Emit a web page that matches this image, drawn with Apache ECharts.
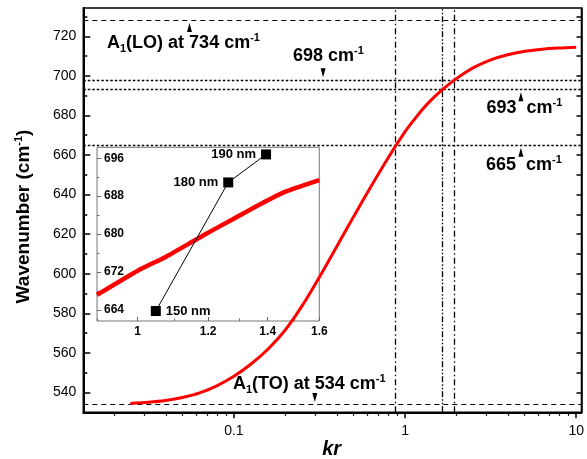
<!DOCTYPE html>
<html><head><meta charset="utf-8">
<script src="https://cdn.jsdelivr.net/npm/echarts@6/dist/echarts.min.js"></script>
<style>html,body{margin:0;padding:0;background:#fff}#c{width:587px;height:459px}</style>
</head><body><div id="c"></div>
<script>
// ---- data ----
const curveX = [0.0248, 0.0316, 0.0398, 0.0501, 0.0631, 0.0794, 0.1, 0.1259, 0.1585, 0.1995, 0.2512, 0.3162, 0.3981, 0.5012, 0.631, 0.7943, 1.0, 1.122, 1.259, 1.413, 1.585, 1.778, 1.995, 2.239, 2.512, 3.162, 3.981, 5.012, 6.31, 7.943, 10.0];
const curveY = [534.5, 535.1, 536.0, 537.5, 539.8, 543.4, 548.2, 554.4, 562.0, 571.6, 584.0, 598.4, 613.7, 629.0, 644.0, 658.4, 671.8, 677.5, 682.9, 687.6, 691.7, 695.3, 698.6, 701.6, 704.2, 708.1, 710.7, 712.4, 713.5, 714.1, 714.5];
const insetCurveX = [0.9, 1.0, 1.075, 1.157, 1.213, 1.278, 1.37, 1.468, 1.6];
const insetCurveY = [667.2, 672.3, 675.2, 678.6, 680.8, 683.1, 686.2, 689.0, 691.4];
const sizeX = [1.048, 1.264, 1.394];
const sizeY = [663.8, 690.9, 696.8];
const sizeLabels = ['150 nm', '180 nm', '190 nm'];
const hLinesDashed = [728, 534];
const hLinesDotted = [698, 693, 665];
const vLines = [0.875, 1.66, 1.935];
const xMajorTicks = [0.1, 1, 10];
const xMinorTicks = [0.02,0.03,0.04,0.05,0.06,0.07,0.08,0.09,0.2,0.3,0.4,0.5,0.6,0.7,0.8,0.9,2,3,4,5,6,7,8,9];
const yMajorTicks = [540,560,580,600,620,640,660,680,700,720];
const yMinorTicks = [530,550,570,590,610,630,650,670,690,710,730];
const yAllTicks = [530,540,550,560,570,580,590,600,610,620,630,640,650,660,670,680,690,700,710,720,730];
const insetXTicks = [1, 1.2, 1.4, 1.6];
const insetXMinor = [0.9, 1.1, 1.3, 1.5];
const insetYTicks = [664, 672, 680, 688, 696];
const insetYMinor = [668, 676, 684, 692];
const arrowX = [0.055, 0.332, 4.75, 4.75, 0.297];
const arrowY = [728, 698, 693, 665, 534];
const arrowUp = [true, false, true, true, false];

const FF = '"Liberation Sans", Arial, sans-serif';
const chart = echarts.init(document.getElementById('c'), null, {renderer: 'canvas'});

function rich(size) {
  return {
    t: {fontSize: size, fontWeight: 'bold', fontFamily: FF, color: '#000', lineHeight: 22},
    sub: {fontSize: 11, fontWeight: 'bold', fontFamily: FF, color: '#000', lineHeight: 12, verticalAlign: 'bottom'},
    sup: {fontSize: 11, fontWeight: 'bold', fontFamily: FF, color: '#000', lineHeight: 12, verticalAlign: 'top'}
  };
}
function txt(x, y, s, size, extra) {
  return Object.assign({type: 'text', x: x, y: y, style: {text: s, rich: rich(size), textVerticalAlign: 'middle', textAlign: 'left'}, z: 100}, extra || {});
}

const pairs = (xs, ys) => xs.map((x, i) => [x, ys[i]]);
const xMin = 0.01318, xMax = 10.735;

const markLines = [];
hLinesDashed.forEach(v => markLines.push({yAxis: v, lineStyle: {type: [5, 4], width: 1.2, color: '#000'}}));
hLinesDotted.forEach(v => markLines.push({yAxis: v, lineStyle: {type: [2.5, 2], width: 1.4, color: '#000'}}));
vLines.forEach((v, i) => markLines.push({xAxis: v, lineStyle: {type: i === 1 ? [6, 2, 1.5, 2, 1.5, 2] : [6, 3, 1.5, 3], width: 1.3, color: '#000'}}));

const arrows = arrowX.map((x, i) => ({
  coord: [x, arrowY[i]],
  symbol: 'triangle',
  symbolSize: [5, 9],
  symbolRotate: arrowUp[i] ? 0 : 180,
  symbolOffset: [0, arrowUp[i] ? 7 : -7],
  itemStyle: {color: '#000'}
}));

const option = {
  animation: false,
  backgroundColor: '#fff',
  grid: [
    {left: 83.3, top: 8, right: 3, bottom: 46.7, show: true, borderColor: '#000', borderWidth: 1.5, backgroundColor: 'transparent'},
    {left: 97, top: 147.3, width: 222.3, height: 173.7, show: true, borderColor: '#777', borderWidth: 1, backgroundColor: 'transparent'}
  ],
  xAxis: [
    {type: 'log', gridIndex: 0, position: 'bottom', min: xMin, max: xMax, logBase: 10,
     axisLine: {show: true, onZero: false, lineStyle: {color: '#000', width: 2}},
     axisTick: {show: true, inside: false, length: 6, customValues: xMajorTicks, lineStyle: {color: '#000', width: 1.5}},
     axisLabel: {show: true, customValues: xMajorTicks, margin: 12, fontSize: 14, fontFamily: FF, color: '#000',
                 formatter: v => String(+(+v).toPrecision(3))},
     splitLine: {show: false}, minorTick: {show: false}},
    {type: 'log', gridIndex: 0, position: 'bottom', min: xMin, max: xMax, logBase: 10,
     axisLine: {show: false},
     axisTick: {show: true, inside: false, length: 3.5, customValues: xMinorTicks, lineStyle: {color: '#000', width: 1.2}},
     axisLabel: {show: false, customValues: xMinorTicks}, splitLine: {show: false}},
    {type: 'log', gridIndex: 1, position: 'bottom', min: 0.9, max: 1.6, logBase: 10,
     axisLine: {show: false},
     axisTick: {show: true, inside: true, length: 4, customValues: insetXTicks, lineStyle: {color: '#666', width: 1}},
     axisLabel: {show: true, customValues: insetXTicks, margin: 5, fontSize: 12, fontWeight: 'bold', fontFamily: FF, color: '#000',
                 formatter: v => String(+(+v).toPrecision(3))},
     splitLine: {show: false}},
    {type: 'log', gridIndex: 1, position: 'bottom', min: 0.9, max: 1.6, logBase: 10,
     axisLine: {show: false},
     axisTick: {show: true, inside: true, length: 2.5, customValues: insetXMinor, lineStyle: {color: '#666', width: 1}},
     axisLabel: {show: false, customValues: insetXMinor}, splitLine: {show: false}}
  ],
  yAxis: [
    {type: 'value', gridIndex: 0, position: 'left', min: 530, max: 734.3,
     axisLine: {show: true, onZero: false, lineStyle: {color: '#000', width: 2}},
     axisTick: {show: true, inside: true, length: 7, customValues: yMajorTicks, lineStyle: {color: '#000', width: 1.5}},
     axisLabel: {show: true, customValues: yMajorTicks, margin: 7, fontSize: 14, fontFamily: FF, color: '#000'},
     splitLine: {show: false}},
    {type: 'value', gridIndex: 0, position: 'left', min: 530, max: 734.3,
     axisLine: {show: false},
     axisTick: {show: true, inside: true, length: 4, customValues: yMinorTicks, lineStyle: {color: '#000', width: 1.5}},
     axisLabel: {show: false, customValues: yMinorTicks}, splitLine: {show: false}},
    {type: 'value', gridIndex: 0, position: 'right', min: 530, max: 734.3,
     axisLine: {show: true, onZero: false, lineStyle: {color: '#000', width: 1.5}},
     axisTick: {show: true, inside: true, length: 5, customValues: yAllTicks, lineStyle: {color: '#000', width: 1.5}},
     axisLabel: {show: false, customValues: yAllTicks}, splitLine: {show: false}},
    {type: 'value', gridIndex: 1, position: 'left', min: 661.7, max: 698.3,
     axisLine: {show: false},
     axisTick: {show: true, inside: true, length: 4, customValues: insetYTicks, lineStyle: {color: '#666', width: 1}},
     axisLabel: {show: true, inside: true, customValues: insetYTicks, margin: 7, fontSize: 12, fontWeight: 'bold', fontFamily: FF, color: '#000'},
     splitLine: {show: false}},
    {type: 'value', gridIndex: 1, position: 'left', min: 661.7, max: 698.3,
     axisLine: {show: false},
     axisTick: {show: true, inside: true, length: 2.5, customValues: insetYMinor, lineStyle: {color: '#666', width: 1}},
     axisLabel: {show: false, customValues: insetYMinor}, splitLine: {show: false}}
  ],
  series: [
    {type: 'line', xAxisIndex: 0, yAxisIndex: 0, data: pairs(curveX, curveY), showSymbol: false, symbol: 'none',
     smooth: 0.3, lineStyle: {color: '#ff0000', width: 3}, z: 5,
     markLine: {silent: true, symbol: 'none', label: {show: false}, animation: false, data: markLines, z: 3},
     markPoint: {silent: true, label: {show: false}, animation: false, data: arrows, z: 6}},
    {type: 'line', xAxisIndex: 2, yAxisIndex: 3, data: pairs(insetCurveX, insetCurveY), showSymbol: false, symbol: 'none',
     smooth: 0.2, lineStyle: {color: '#ff0000', width: 4.5}, z: 5},
    {type: 'line', xAxisIndex: 2, yAxisIndex: 3,
     data: sizeX.map((x, i) => ({value: [x, sizeY[i]], label: {position: i === 0 ? 'right' : 'left'}})),
     symbol: 'rect', symbolSize: 10, showSymbol: true,
     itemStyle: {color: '#000'}, lineStyle: {color: '#000', width: 1}, z: 6,
     label: {show: true, distance: 5, fontSize: 13, fontWeight: 'bold', fontFamily: FF, color: '#000',
             formatter: p => sizeLabels[p.dataIndex]}}
  ],
  graphic: [
    txt(107, 43, '{t|A}{sub|1}{t|(LO) at 734 cm}{sup|-1}', 18),
    txt(293, 56, '{t|698 cm}{sup|-1}', 18),
    txt(486.5, 108, '{t|693  cm}{sup|-1}', 18),
    txt(486, 165.5, '{t|665  cm}{sup|-1}', 18),
    txt(233, 384, '{t|A}{sub|1}{t|(TO) at 534 cm}{sup|-1}', 18),
    {type: 'text', x: 24, y: 216.5, rotation: Math.PI / 2, z: 100,
     style: {text: '{t|Wavenumber (cm}{sup|-1}{t|)}', rich: rich(19), textAlign: 'center', textVerticalAlign: 'middle'}},
    {type: 'text', x: 331.7, y: 449, z: 100,
     style: {text: 'kr', font: 'italic bold 20px ' + FF, fill: '#000', textAlign: 'center', textVerticalAlign: 'middle'}}
  ]
};
chart.setOption(option);
</script></body></html>
